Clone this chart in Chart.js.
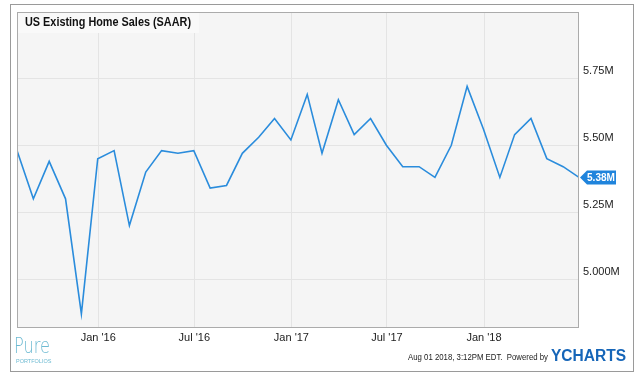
<!DOCTYPE html>
<html>
<head>
<meta charset="utf-8">
<script src="https://cdn.jsdelivr.net/npm/chart.js@4/dist/chart.umd.min.js"></script>
<style>
  html, body { margin: 0; padding: 0; background: #fff; }
  #wrap { width: 642px; height: 376px; position: relative; }
</style>
</head>
<body>
<div id="wrap"><canvas id="salesChart" width="642" height="376"></canvas></div>
<script>
(function () {
    'use strict';

    // Month-end dates of each reading (YCharts plots monthly data at month end)
    const DATES = [
        '2015-07-31', '2015-08-31', '2015-09-30', '2015-10-31', '2015-11-30', '2015-12-31',
        '2016-01-31', '2016-02-29', '2016-03-31', '2016-04-30', '2016-05-31', '2016-06-30',
        '2016-07-31', '2016-08-31', '2016-09-30', '2016-10-31', '2016-11-30', '2016-12-31',
        '2017-01-31', '2017-02-28', '2017-03-31', '2017-04-30', '2017-05-31', '2017-06-30',
        '2017-07-31', '2017-08-31', '2017-09-30', '2017-10-31', '2017-11-30', '2017-12-31',
        '2018-01-31', '2018-02-28', '2018-03-31', '2018-04-30', '2018-05-31', '2018-06-30'
    ];

    // Existing home sales, millions (SAAR)
    const SALES = [
        5.48, 5.30, 5.44, 5.30, 4.87, 5.45,
        5.48, 5.20, 5.40, 5.48, 5.47, 5.48,
        5.34, 5.35, 5.47, 5.53, 5.60, 5.52,
        5.69, 5.47, 5.67, 5.54, 5.60, 5.50,
        5.42, 5.42, 5.38, 5.50, 5.72, 5.56,
        5.38, 5.54, 5.60, 5.45, 5.42, 5.38
    ];

    const X_TICK_DATES = ['2016-01-01', '2016-07-01', '2017-01-01', '2017-07-01', '2018-01-01'];
    const X_TICK_LABELS = ["Jan '16", "Jul '16", "Jan '17", "Jul '17", "Jan '18"];

    const Y_TICKS = [5.00, 5.25, 5.50, 5.75];
    const Y_TICK_LABELS = ['5.000M', '5.25M', '5.50M', '5.75M'];

    const LINE_COLOR = '#2a8cdc';
    const FONT = 'Arial, "Liberation Sans", sans-serif';

    const toMs = d => Date.parse(d + 'T00:00:00Z');
    const points = DATES.map((d, i) => ({ x: toMs(d), y: SALES[i] }));
    const xTickMs = X_TICK_DATES.map(toMs);

    // Plot background, frame, title box and footer
    const decorations = {
        id: 'decorations',
        beforeDraw(chart) {
            const ctx = chart.ctx;
            const a = chart.chartArea;
            ctx.save();
            ctx.fillStyle = '#fff';
            ctx.fillRect(0, 0, chart.width, chart.height);
            ctx.fillStyle = '#f5f5f5';
            ctx.fillRect(a.left, a.top, a.right - a.left, a.bottom - a.top);
            ctx.restore();
        },
        afterDatasetsDraw(chart) {
            const ctx = chart.ctx;
            const a = chart.chartArea;
            ctx.save();

            // outer frame
            ctx.strokeStyle = '#9a9a9a';
            ctx.lineWidth = 1;
            ctx.strokeRect(10.5, 4.5, 623, 367);

            // plot border
            ctx.strokeStyle = '#ababab';
            ctx.strokeRect(a.left + 0.5, a.top + 0.5, a.right - a.left - 1, a.bottom - a.top);

            // title box
            ctx.fillStyle = '#f9f9f9';
            ctx.fillRect(a.left + 1, a.top + 1, 181, 20);
            ctx.fillStyle = '#111';
            ctx.font = 'bold 12.5px ' + FONT;
            ctx.textBaseline = 'middle';
            ctx.textAlign = 'left';
            ctx.fillText('US Existing Home Sales (SAAR)', 25, 23, 166);

            // last value tag
            const last = SALES[SALES.length - 1];
            const py = chart.scales.y.getPixelForValue(last);
            const px = a.right + 1;
            ctx.fillStyle = '#1f84dc';
            ctx.beginPath();
            ctx.moveTo(px, py);
            ctx.lineTo(px + 7, py - 7);
            ctx.lineTo(px + 36, py - 7);
            ctx.lineTo(px + 36, py + 7);
            ctx.lineTo(px + 7, py + 7);
            ctx.closePath();
            ctx.fill();
            ctx.fillStyle = '#fff';
            ctx.font = 'bold 11px ' + FONT;
            ctx.fillText(last.toFixed(2) + 'M', px + 7, py + 0.5, 28);

            // footer: logo
            ctx.fillStyle = '#6dbad2';
            ctx.font = '300 22px "DejaVu Sans", ' + FONT;
            ctx.textBaseline = 'alphabetic';
            ctx.fillText('Pure', 14, 353, 36);
            ctx.font = '5.5px ' + FONT;
            ctx.fillText('PORTFOLIOS', 16, 363, 40);

            // footer: timestamp and brand
            ctx.fillStyle = '#222';
            ctx.font = '9px ' + FONT;
            ctx.textAlign = 'left';
            ctx.fillText('Aug 01 2018, 3:12PM EDT.  Powered by', 408, 360, 140);
            ctx.fillStyle = '#1565b8';
            ctx.font = 'bold 16px ' + FONT;
            ctx.fillText('YCHARTS', 551, 361, 75);
            ctx.restore();
        }
    };

    new Chart(document.getElementById('salesChart'), {
        type: 'line',
        data: {
            datasets: [{
                label: 'US Existing Home Sales (SAAR)',
                data: points,
                borderColor: LINE_COLOR,
                borderWidth: 1.6,
                pointRadius: 0,
                tension: 0,
                fill: false
            }]
        },
        options: {
            responsive: false,
            animation: false,
            layout: { padding: { left: 17, top: 12, right: 0, bottom: 0 } },
            scales: {
                x: {
                    type: 'linear',
                    min: points[0].x,
                    max: points[points.length - 1].x,
                    afterBuildTicks: scale => {
                        scale.ticks = xTickMs.map(v => ({ value: v }));
                    },
                    afterFit: scale => { scale.height = 49; },
                    grid: { color: '#e4e4e4', drawTicks: false },
                    border: { display: false },
                    ticks: {
                        padding: 4,
                        maxRotation: 0,
                        color: '#222',
                        font: { family: FONT, size: 11 },
                        callback: v => X_TICK_LABELS[xTickMs.indexOf(v)]
                    }
                },
                y: {
                    position: 'right',
                    min: 4.821,
                    max: 5.998,
                    afterBuildTicks: scale => {
                        scale.ticks = Y_TICKS.map(v => ({ value: v }));
                    },
                    afterFit: scale => { scale.width = 63; },
                    grid: { color: '#e4e4e4', drawTicks: false },
                    border: { display: false },
                    ticks: {
                        padding: 4,
                        labelOffset: -7,
                        color: '#222',
                        font: { family: FONT, size: 11 },
                        callback: v => Y_TICK_LABELS[Y_TICKS.indexOf(v)]
                    }
                }
            },
            plugins: {
                legend: { display: false },
                tooltip: { enabled: false }
            }
        },
        plugins: [decorations]
    });
})();
</script>
</body>
</html>
